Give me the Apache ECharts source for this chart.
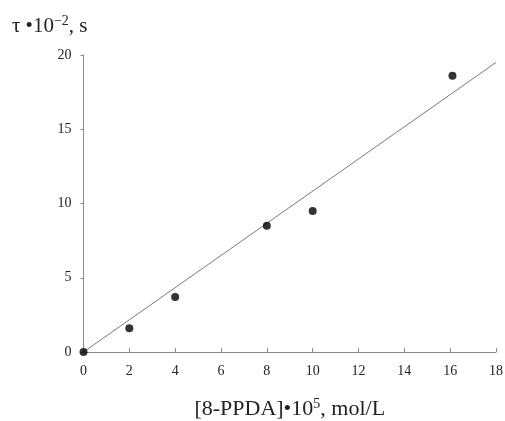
<!DOCTYPE html>
<html>
<head>
<meta charset="utf-8">
<script src="https://cdn.jsdelivr.net/npm/echarts@6/dist/echarts.min.js"></script>
<style>
  html, body { margin: 0; padding: 0; background: #fff; }
  #chart { width: 505px; height: 421px; }
</style>
</head>
<body>
<div id="chart"></div>
<script>
// measured points: [8-PPDA]*1e5 vs tau*1e-2
const concX = [0, 2, 4, 8, 10, 16.1]
const tauY = [0, 1.6, 3.7, 8.5, 9.5, 18.6]
// fitted line end points
const fitX = [0, 18]
const fitY = [0, 19.5]

const serif = '"Liberation Serif", "DejaVu Serif", serif'
const axisGrey = '#8a8a8a'
const txt = '#222'

const chart = echarts.init(document.getElementById('chart'))

chart.setOption({
  animation: false,
  textStyle: { fontFamily: serif },
  grid: { left: 83.5, right: 9, top: 55, bottom: 69, outerBoundsMode: 'none' },
  xAxis: {
    type: 'value',
    min: 0,
    max: 18,
    interval: 2,
    name: '{n|[8-PPDA]•10}{s|5}{n|, mol/L}',
    nameLocation: 'middle',
    nameGap: 45,
    nameTextStyle: {
      rich: {
        n: { fontFamily: serif, fontSize: 22, color: txt },
        s: { fontFamily: serif, fontSize: 14, color: txt, verticalAlign: 'top', padding: [0, 0, 10, 0] }
      }
    },
    splitLine: { show: false },
    axisLine: { lineStyle: { color: axisGrey, width: 1 } },
    axisTick: { inside: true, length: 4, lineStyle: { color: axisGrey } },
    axisLabel: { fontFamily: serif, fontSize: 14, color: txt, margin: 12 }
  },
  yAxis: {
    type: 'value',
    min: 0,
    max: 20,
    interval: 5,
    name: '{n|τ •10}{s|−2}{n|, s}',
    nameLocation: 'end',
    nameGap: 17,
    nameTextStyle: {
      align: 'right',
      padding: [0, -4, 0, 0],
      rich: {
        n: { fontFamily: serif, fontSize: 21, color: txt },
        s: { fontFamily: serif, fontSize: 14, color: txt, verticalAlign: 'top', padding: [0, 0, 10, 0] }
      }
    },
    splitLine: { show: false },
    axisLine: { show: true, lineStyle: { color: axisGrey, width: 1 } },
    axisTick: { show: true, length: 3, lineStyle: { color: axisGrey } },
    axisLabel: { fontFamily: serif, fontSize: 14, color: txt, margin: 12 }
  },
  series: [
    {
      type: 'line',
      data: fitX.map((x, i) => [x, fitY[i]]),
      symbol: 'none',
      lineStyle: { color: '#7a7a7a', width: 1 },
      silent: true,
      z: 1
    },
    {
      type: 'scatter',
      data: concX.map((x, i) => [x, tauY[i]]),
      symbol: 'circle',
      symbolSize: 8,
      itemStyle: { color: '#000' },
      z: 3
    }
  ]
})
</script>
</body>
</html>
